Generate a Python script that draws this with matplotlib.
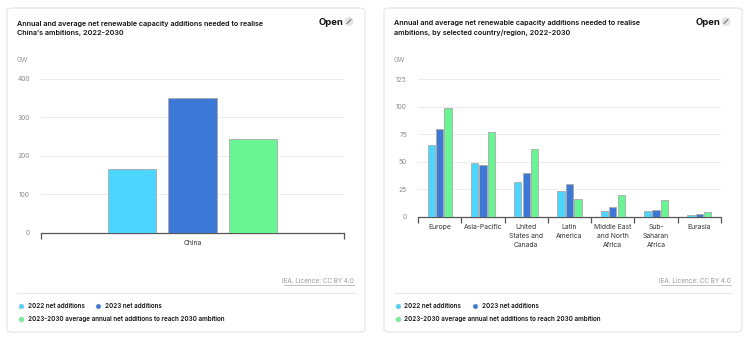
import matplotlib.pyplot as plt
from matplotlib.patches import FancyBboxPatch, Ellipse
from matplotlib.lines import Line2D

# capacity additions, GW
china_labels = ['China']
china_2022 = [165]
china_2023 = [350]
china_target = [243]

regions = ['Europe', 'Asia-Pacific', 'United\nStates and\nCanada', 'Latin\nAmerica',
           'Middle East\nand North\nAfrica', 'Sub-\nSaharan\nAfrica', 'Eurasia']
region_2022 = [65, 49, 32, 23, 5, 5, 2]
region_2023 = [80, 47, 40, 30, 8.5, 6, 2.7]
region_target = [99, 77, 61.5, 16, 20, 15, 4]

series_names = ['2022 net additions', '2023 net additions',
                '2023-2030 average annual net additions to reach 2030 ambition']
colors = ['#4cd5ff', '#3c79d6', '#6af594']

titles = ['Annual and average net renewable capacity additions needed to realise\nChina\u2019s ambitions, 2022-2030',
          'Annual and average net renewable capacity additions needed to realise\nambitions, by selected country/region, 2022-2030']

plt.rcParams['font.family'] = ['Inter', 'DejaVu Sans']

W, H = 753, 342
fig = plt.figure(figsize=(W / 100, H / 100), dpi=100)
fig.patch.set_facecolor('white')


def fx(x):
    return x / W


def fy(y):
    return 1 - y / H


def panel(x0, title):
    # card background
    fig.patches.append(FancyBboxPatch((fx(x0), fy(332)), fx(358), 324 / H,
                                      boxstyle='round,pad=0,rounding_size=0.008',
                                      transform=fig.transFigure, facecolor='white',
                                      edgecolor='#e4e4e4', linewidth=0.8, zorder=-5))
    fig.text(fx(x0 + 10), fy(35.5), title, fontsize=5.2, fontweight='semibold',
             color='#111', linespacing=1.75, va='baseline')
    fig.text(fx(x0 + 312), fy(25), 'Open', fontsize=6.8, fontweight='bold', color='#111')
    # expand icon
    fig.patches.append(Ellipse((fx(x0 + 342), fy(21.5)), 9 / W, 9 / H,
                               transform=fig.transFigure, facecolor='#e4e4e4',
                               edgecolor='none', zorder=-4))
    fig.add_artist(Line2D([fx(x0 + 340), fx(x0 + 344)], [fy(23.5), fy(19.5)],
                          color='#555', lw=0.6, transform=fig.transFigure))
    fig.text(fx(x0 + 10), fy(60), 'GW', fontsize=4.8, color='#999', va='center')
    # licence
    fig.text(fx(x0 + 347), fy(283), 'IEA. Licence: CC BY 4.0', fontsize=4.6,
             color='#999', ha='right', va='baseline')
    fig.add_artist(Line2D([fx(x0 + 277), fx(x0 + 347)], [fy(284.5), fy(284.5)],
                          color='#aaa', lw=0.5, transform=fig.transFigure))
    fig.add_artist(Line2D([fx(x0 + 10), fx(x0 + 348)], [fy(293), fy(293)],
                          color='#e8e8e8', lw=0.8, transform=fig.transFigure))
    # legend
    items = [(x0 + 13.5, 306, 0), (x0 + 91, 306, 1), (x0 + 13.5, 319, 2)]
    for mx, my, i in items:
        fig.add_artist(Line2D([fx(mx)], [fy(my)], marker='o', markersize=3.6,
                              color=colors[i], markeredgecolor='#bbb', markeredgewidth=0.3,
                              transform=fig.transFigure))
        fig.text(fx(mx + 7), fy(my), series_names[i], fontsize=4.5, fontweight='semibold',
                 color='#111', va='center')


def style_axes(ax, ymax, step, ncat):
    ax.set_ylim(0, ymax)
    ax.set_yticks(range(0, ymax + 1, step))
    ax.set_xlim(-0.5, ncat - 0.5)
    for s in ['top', 'right', 'left']:
        ax.spines[s].set_visible(False)
    ax.spines['bottom'].set_color('#555')
    ax.spines['bottom'].set_linewidth(0.9)
    ax.grid(axis='y', color='#ececec', lw=0.7)
    ax.set_axisbelow(True)
    ax.tick_params(axis='y', length=0, labelsize=4.8, labelcolor='#8a8a8a', pad=8)
    ax.tick_params(axis='x', which='major', length=0, labelsize=4.9,
                   labelcolor='#333', pad=5)
    ax.set_xticks([i - 0.5 for i in range(ncat + 1)], minor=True)
    ax.tick_params(axis='x', which='minor', length=4, color='#555', width=0.9)
    ax.patch.set_alpha(0)


def draw_bars(ax, labels, series, spacing, width):
    xs = range(len(labels))
    for k, vals in enumerate(series):
        ax.bar([x + (k - 1) * spacing for x in xs], vals, width=width,
               color=colors[k], edgecolor='#a9a9a9', linewidth=0.6, zorder=3)
    ax.set_xticks(list(xs))
    ax.set_xticklabels(labels, linespacing=1.6)


panel(7, titles[0])
panel(384, titles[1])

ax1 = fig.add_axes([fx(41), fy(232.7), 303 / W, 153.7 / H])
style_axes(ax1, 400, 100, 1)
draw_bars(ax1, china_labels, [china_2022, china_2023, china_target], 0.2, 0.16)

ax2 = fig.add_axes([fx(418), fy(216.7), 303 / W, 137.4 / H])
style_axes(ax2, 125, 25, len(regions))
draw_bars(ax2, regions, [region_2022, region_2023, region_target], 0.195, 0.17)

plt.savefig('out.png', dpi=100)
